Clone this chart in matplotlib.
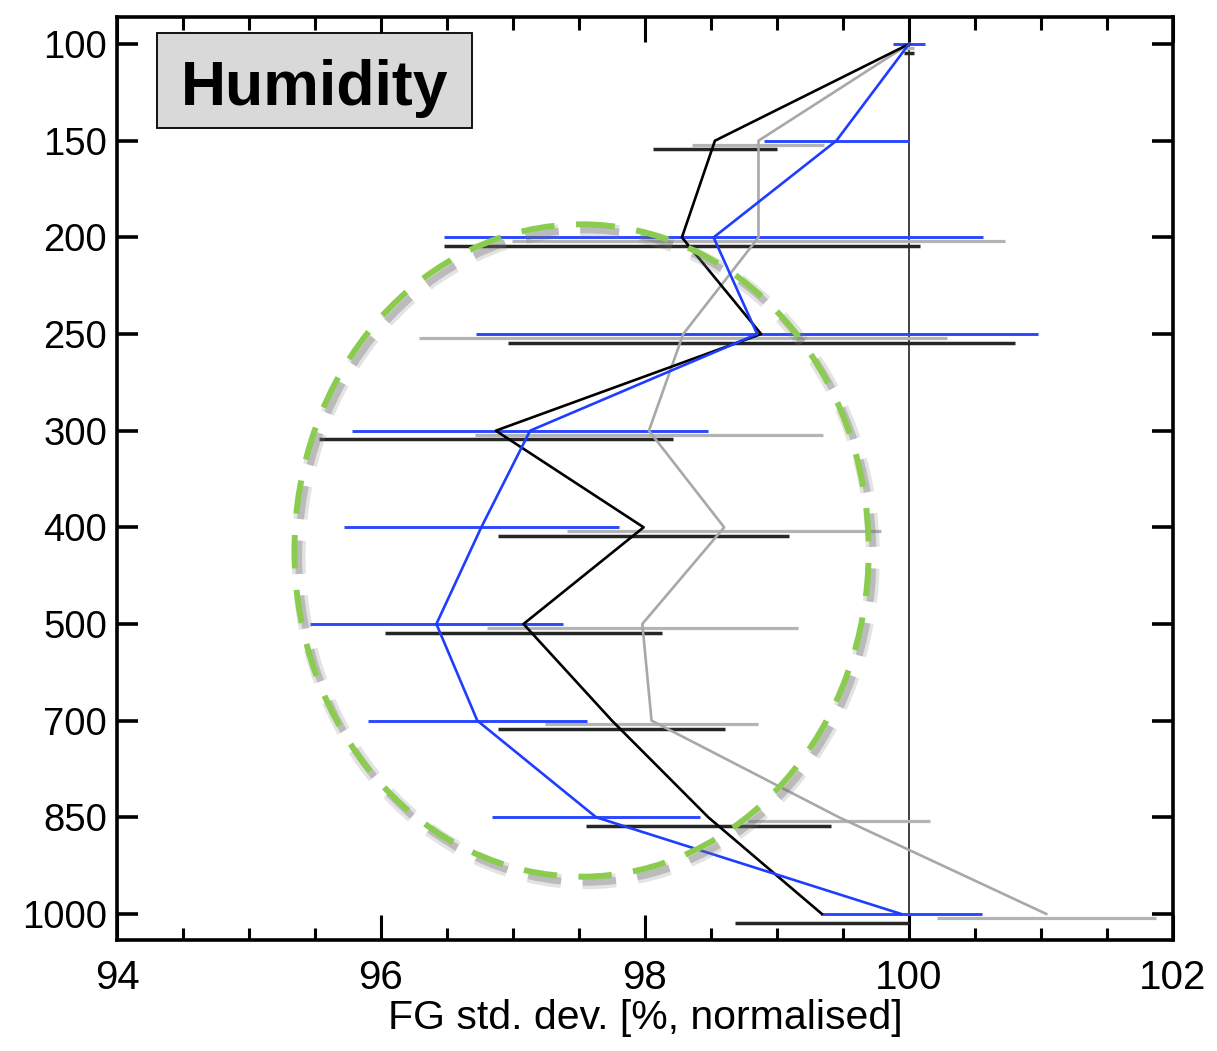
import numpy as np
import matplotlib.pyplot as plt
from matplotlib.patches import Ellipse, Rectangle
from matplotlib.ticker import MultipleLocator
import matplotlib.patheffects as pe

plt.rcParams['font.family'] = ['Liberation Sans', 'DejaVu Sans']

# pressure levels (hPa), plotted on an evenly spaced axis
levels = ["100", "150", "200", "250", "300", "400", "500", "700", "850", "1000"]

# normalised FG std. dev. [%] per experiment, with error half-widths
black_val = [100.0, 98.53, 98.28, 98.88, 96.87, 97.99, 97.08, 97.75, 98.48, 99.34]
black_err = [0.04, 0.47, 1.80, 1.92, 1.34, 1.10, 1.05, 0.86, 0.93, 0.66]

gray_val = [100.0, 98.86, 98.86, 98.29, 98.03, 98.60, 97.98, 98.05, 99.47, 101.04]
gray_err = [0.04, 0.50, 1.87, 2.00, 1.32, 1.19, 1.18, 0.81, 0.69, 0.83]

blue_val = [100.0, 99.45, 98.52, 98.85, 97.13, 96.76, 96.42, 96.73, 97.63, 99.94]
blue_err = [0.12, 0.55, 2.04, 2.13, 1.35, 1.04, 0.96, 0.83, 0.79, 0.61]

fig = plt.figure(figsize=(12.17, 10.51), dpi=100)
ax = fig.add_axes([0.0961, 0.1056, 0.8677, 0.8782])

pos = np.arange(len(levels))

# error bars, slightly shifted so they don't sit on top of each other
ax.errorbar(gray_val, pos + 0.04, xerr=gray_err, fmt='none', ecolor='#b4b4b4',
            elinewidth=2.3, capsize=0, zorder=2)
ax.errorbar(black_val, pos + 0.09, xerr=black_err, fmt='none', ecolor='#262626',
            elinewidth=2.5, capsize=0, zorder=2)
ax.errorbar(blue_val, pos, xerr=blue_err, fmt='none', ecolor='#2a48ff',
            elinewidth=2.1, capsize=0, zorder=3)

ax.axvline(100, color='#333333', lw=1.3, zorder=1)

ax.plot(gray_val, pos, color='#a8a8a8', lw=1.9, zorder=4)
ax.plot(black_val, pos, color='black', lw=1.9, zorder=4)
ax.plot(blue_val, pos, color='#1f3dff', lw=1.9, zorder=5)

# highlight ring around the mid-troposphere
ring = Ellipse((97.52, 5.24), 4.35, 6.75, fill=False, edgecolor='#8bcc50',
               lw=4.3, zorder=6)
ring.set_linestyle((0, (5.6, 3.6)))
ring.set_path_effects([
    pe.SimpleLineShadow(offset=(3, -4), shadow_color='#808080', alpha=0.22, linewidth=10),
    pe.SimpleLineShadow(offset=(3, -4), shadow_color='#606060', alpha=0.3, linewidth=5),
    pe.Normal(),
])
ax.add_patch(ring)

ax.set_xlim(94, 102)
ax.set_ylim(len(levels) - 1 + 0.27, -0.28)
ax.set_yticks(pos)
ax.set_yticklabels(levels)
ax.xaxis.set_major_locator(MultipleLocator(2))
ax.xaxis.set_minor_locator(MultipleLocator(0.5))

for s in ax.spines.values():
    s.set_linewidth(2.6)

ax.tick_params(axis='both', which='both', direction='in', top=True, right=True)
ax.tick_params(axis='x', which='major', length=18, width=2.2, labelsize=29, pad=14)
ax.tick_params(axis='x', which='minor', length=9, width=2.2)
ax.tick_params(axis='y', which='major', length=15, width=2.6, labelsize=27.5, pad=7)
ax.tick_params(axis='y', which='minor', left=False, right=False)

ax.set_xlabel("FG std. dev. [%, normalised]", fontsize=29.5, labelpad=1)

# title box in the upper left corner
ax.add_patch(Rectangle((0.038, 0.880), 0.298, 0.103, transform=ax.transAxes,
                       facecolor='#d9d9d9', edgecolor='black', lw=1.3, zorder=7))
ax.text(0.187, 0.905, "Humidity", transform=ax.transAxes, ha='center', va='baseline',
        fontsize=45, fontweight='bold', zorder=8)

fig.savefig("out.png", dpi=100)
